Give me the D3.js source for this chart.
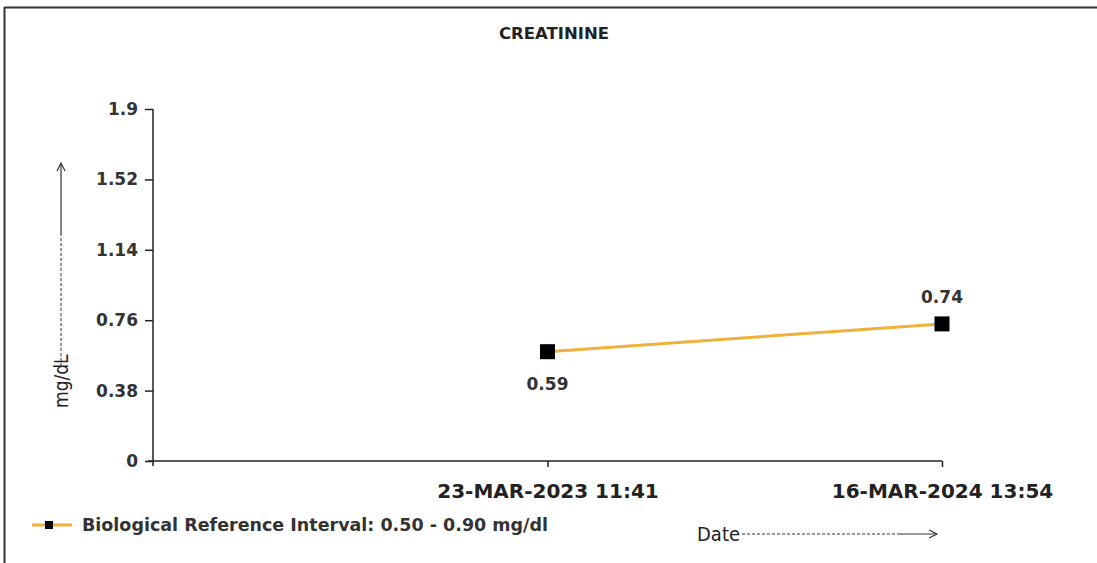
<!DOCTYPE html>
<html>
<head>
<meta charset="utf-8">
<script src="https://cdn.jsdelivr.net/npm/d3@7"></script>
<style>
html,body{margin:0;padding:0;background:#fff;}
svg{display:block;}
</style>
</head>
<body>
<script>
const title = "CREATININE";
const categories = ["23-MAR-2023 11:41", "16-MAR-2024 13:54"];
const values = [0.59, 0.74];
const yTicks = [0, 0.38, 0.76, 1.14, 1.52, 1.9];
const seriesName = "Biological Reference Interval: 0.50 - 0.90 mg/dl";
const yAxisLabel = "mg/dL";
const xAxisLabel = "Date";

(function () {
const W = 1097, H = 563;
const svg = d3.select("body").append("svg").attr("width", W).attr("height", H);
const bold = "'DejaVu Sans', sans-serif";
const narrow = "'Liberation Sans Narrow', 'DejaVu Sans Condensed', sans-serif";

// frame
svg.append("line").attr("x1", 4).attr("x2", W).attr("y1", 7.5).attr("y2", 7.5).attr("stroke", "#333").attr("stroke-width", 2);
svg.append("line").attr("x1", 4.5).attr("x2", 4.5).attr("y1", 7).attr("y2", H).attr("stroke", "#333").attr("stroke-width", 2);

const pLeft = 153, pRight = 942, pTop = 109, pBottom = 461;
const x = d3.scaleLinear().domain([0, categories.length]).range([pLeft, pRight]);
const y = d3.scaleLinear().domain([0, 1.9]).range([pBottom, pTop]);

// title
svg.append("text").attr("x", 554).attr("y", 39).attr("text-anchor", "middle")
  .attr("font-family", bold).attr("font-weight", "bold").attr("font-size", 16.5).attr("fill", "#222").text(title);

// y axis
const yAxis = svg.append("g").attr("transform", `translate(${pLeft},0)`)
  .call(d3.axisLeft(y).tickValues(yTicks).tickFormat(d => String(d)).tickSize(8).tickPadding(7));
yAxis.select(".domain").attr("d", `M0,${pTop}V${pBottom + 5}`).attr("stroke", "#222").attr("stroke-width", 1.5);
yAxis.selectAll(".tick line").attr("stroke", "#222").attr("stroke-width", 1.5);
yAxis.selectAll(".tick text").attr("font-family", bold).attr("font-weight", "bold").attr("font-size", 17).attr("fill", "#333");

// x axis
const xAxis = svg.append("g").attr("transform", `translate(0,${pBottom})`)
  .call(d3.axisBottom(x).tickValues(categories.map((c, i) => i + 1)).tickFormat(d => categories[d - 1]).tickSize(6).tickPadding(17));
xAxis.select(".domain").attr("d", `M${pLeft - 5},0H${pRight}`).attr("stroke", "#222").attr("stroke-width", 1.5);
xAxis.selectAll(".tick line").attr("stroke", "#222").attr("stroke-width", 1.5);
xAxis.selectAll(".tick text").attr("font-family", bold).attr("font-weight", "bold").attr("font-size", 20).attr("fill", "#222");

// series line
const lineColor = "#f0b03c";
const pts = values.map((v, i) => [x(i + 1), y(v)]);
svg.append("path").attr("d", d3.line()(pts)).attr("fill", "none").attr("stroke", lineColor).attr("stroke-width", 3);
const ms = 15;
svg.selectAll("rect.mk").data(values).join("rect").attr("class", "mk")
  .attr("x", (d, i) => x(i + 1) - ms / 2).attr("y", d => y(d) - ms / 2)
  .attr("width", ms).attr("height", ms).attr("fill", "#000");
svg.selectAll("text.lbl").data(values).join("text").attr("class", "lbl")
  .attr("x", (d, i) => x(i + 1))
  .attr("y", (d, i) => i === 0 ? y(d) + 38 : y(d) - 21)
  .attr("text-anchor", "middle").attr("font-family", bold).attr("font-weight", "bold")
  .attr("font-size", 17).attr("fill", "#333").text(d => d.toFixed(2));

// legend
svg.append("line").attr("x1", 32).attr("x2", 72).attr("y1", 525).attr("y2", 525).attr("stroke", lineColor).attr("stroke-width", 3);
svg.append("rect").attr("x", 45).attr("y", 521).attr("width", 8).attr("height", 8).attr("fill", "#000");
svg.append("text").attr("x", 82).attr("y", 531).attr("font-family", bold).attr("font-weight", "bold")
  .attr("font-size", 17.5).attr("fill", "#333").text(seriesName);

// y axis title with arrow
const yl = svg.append("g").attr("transform", "translate(68,0)");
yl.append("text").attr("transform", "translate(0,408) rotate(-90)").attr("font-family", narrow)
  .attr("font-size", 19).attr("fill", "#222").text(yAxisLabel);
yl.append("line").attr("x1", -7).attr("x2", -7).attr("y1", 366).attr("y2", 235).attr("stroke", "#333").attr("stroke-width", 1).attr("stroke-dasharray", "3,2");
yl.append("line").attr("x1", -7).attr("x2", -7).attr("y1", 235).attr("y2", 164).attr("stroke", "#333").attr("stroke-width", 1.2);
yl.append("path").attr("d", "M-11,171L-7,163L-3,171").attr("fill", "none").attr("stroke", "#333").attr("stroke-width", 1.2);

// x axis title with arrow
const xl = svg.append("g");
xl.append("text").attr("x", 697).attr("y", 541).attr("font-family", narrow).attr("font-size", 20).attr("fill", "#222").text(xAxisLabel);
xl.append("line").attr("x1", 742).attr("x2", 900).attr("y1", 534).attr("y2", 534).attr("stroke", "#333").attr("stroke-width", 1).attr("stroke-dasharray", "3,2");
xl.append("line").attr("x1", 900).attr("x2", 936).attr("y1", 534).attr("y2", 534).attr("stroke", "#333").attr("stroke-width", 1.2);
xl.append("path").attr("d", "M929,530L937,534L929,538").attr("fill", "none").attr("stroke", "#333").attr("stroke-width", 1.2);
})();
</script>
</body>
</html>
